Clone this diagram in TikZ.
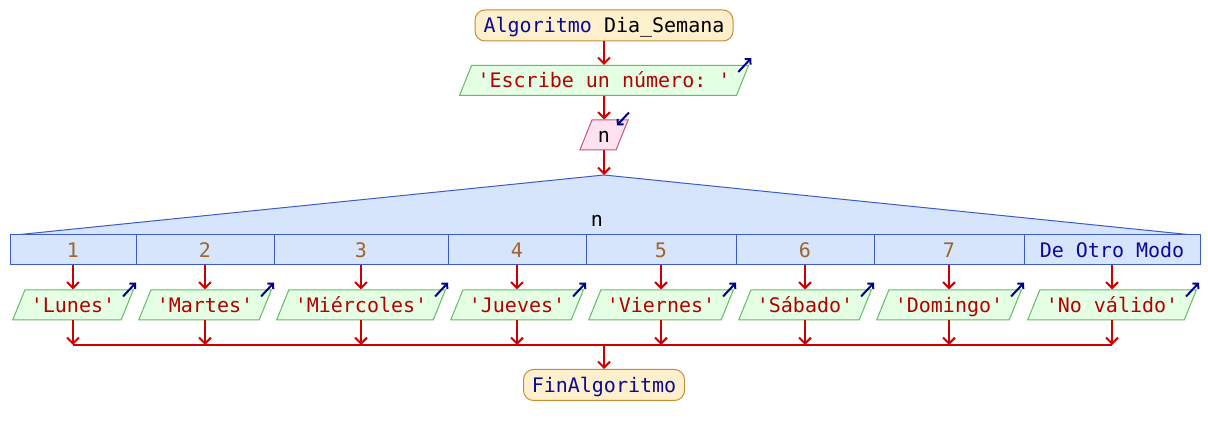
\documentclass[tikz,border=0pt]{standalone}
\usepackage{fontspec}
\setmonofont{DejaVu Sans Mono}
\usepackage{tikz}
\usetikzlibrary{arrows.meta}
\usetikzlibrary{shapes.geometric}

\definecolor{flecha}{RGB}{204,0,0}
\definecolor{fondoini}{RGB}{255,240,205}
\definecolor{bordeini}{RGB}{200,140,50}
\definecolor{fondosal}{RGB}{228,255,228}
\definecolor{bordesal}{RGB}{95,190,95}
\definecolor{fondoent}{RGB}{255,226,240}
\definecolor{bordeent}{RGB}{200,80,130}
\definecolor{fondocaso}{RGB}{214,228,252}
\definecolor{bordecaso}{RGB}{60,90,200}
\definecolor{clave}{RGB}{10,10,150}
\definecolor{cadena}{RGB}{180,0,0}
\definecolor{numero}{RGB}{160,100,40}
\definecolor{azulicono}{RGB}{0,0,140}

\begin{document}
\begin{tikzpicture}[x=1pt,y=-1pt,
			font=\ttfamily\fontsize{20}{24}\selectfont,
			every node/.style={text height=14.5pt,text depth=0pt},
			flujo/.style={draw=flecha,line width=2pt,arrows={-Straight Barb[length=6pt,width=12pt]}},
			union/.style={draw=flecha,line width=2pt},
			terminal/.style={draw=bordeini,fill=fondoini,line width=1pt,rounded corners=10pt,minimum height=31pt,inner sep=0pt},
			salida/.style={trapezium,trapezium left angle=68,trapezium right angle=112,draw=bordesal,fill=fondosal,line width=1pt,inner xsep=6pt,inner ysep=7.75pt,text=cadena},
			entrada/.style={salida,draw=bordeent,fill=fondoent,text=black},
			caso/.style={draw=bordecaso,fill=fondocaso,line width=1pt,minimum height=30pt,inner sep=0pt,text=numero},
			icono/.style={draw=azulicono,line width=2pt,arrows={-Straight Barb[length=4pt,width=8pt]}}]
			
			\useasboundingbox (0,0) rectangle (1208,435);
			
			% start
			\node[terminal,minimum width=258pt] (inicio) at (604,25.5) {{\color{clave}Algoritmo} Dia\_Semana};
			
			% write and read
			\node[salida] (escribe) at (604,80.5) {'Escribe un número: '};
			\node[entrada] (leer) at (604,135) {n};
			
			% selector
			\coordinate (apex) at (604,175);
			\filldraw[draw=bordecaso,fill=fondocaso,line width=1pt] (15,235) -- (apex) -- (1193,235) -- cycle;
			\node (sel) at (597,219) {n};
			
			%labels cases
			\node[caso,minimum width=126pt] (c1) at (73,250) {1};
			\node[caso,minimum width=138pt] (c2) at (205,250) {2};
			\node[caso,minimum width=174pt] (c3) at (361,250) {3};
			\node[caso,minimum width=138pt] (c4) at (517,250) {4};
			\node[caso,minimum width=150pt] (c5) at (661,250) {5};
			\node[caso,minimum width=138pt] (c6) at (805,250) {6};
			\node[caso,minimum width=150pt] (c7) at (949,250) {7};
			\node[caso,minimum width=176pt,text=clave] (c8) at (1112,250) {De Otro Modo};
			
			% outputs
			\node[salida] (o1) at (73,305) {'Lunes'};
			\node[salida] (o2) at (205,305) {'Martes'};
			\node[salida] (o3) at (361,305) {'Miércoles'};
			\node[salida] (o4) at (517,305) {'Jueves'};
			\node[salida] (o5) at (661,305) {'Viernes'};
			\node[salida] (o6) at (805,305) {'Sábado'};
			\node[salida] (o7) at (949,305) {'Domingo'};
			\node[salida] (o8) at (1112,305) {'No válido'};
			
			% end
			\node[terminal,minimum width=161pt] (fin) at (604,385) {\color{clave}FinAlgoritmo};
			
			% join points
			\coordinate (j1) at (73,345);
			\coordinate (j2) at (205,345);
			\coordinate (j3) at (361,345);
			\coordinate (j4) at (517,345);
			\coordinate (j5) at (661,345);
			\coordinate (j6) at (805,345);
			\coordinate (j7) at (949,345);
			\coordinate (j8) at (1112,345);
			\coordinate (j) at (604,345);
			
			% arrows
			\draw[flujo] (inicio) -- (escribe);
			\draw[flujo] (escribe) -- (leer);
			\draw[flujo] (leer) -- (apex);
			\draw[flujo] (c1) -- (o1);
			\draw[flujo] (c2) -- (o2);
			\draw[flujo] (c3) -- (o3);
			\draw[flujo] (c4) -- (o4);
			\draw[flujo] (c5) -- (o5);
			\draw[flujo] (c6) -- (o6);
			\draw[flujo] (c7) -- (o7);
			\draw[flujo] (c8) -- (o8);
			\draw[flujo] (o1) -- (j1);
			\draw[flujo] (o2) -- (j2);
			\draw[flujo] (o3) -- (j3);
			\draw[flujo] (o4) -- (j4);
			\draw[flujo] (o5) -- (j5);
			\draw[flujo] (o6) -- (j6);
			\draw[flujo] (o7) -- (j7);
			\draw[flujo] (o8) -- (j8);
			\draw[union] (j1) -- (j8);
			\draw[flujo] (j) -- (fin);
			
			% io icons
			\draw[icono] ([shift={(-11,7)}]escribe.top right corner) -- ([shift={(2,-7)}]escribe.top right corner);
			\draw[icono] ([shift={(0,-7)}]leer.top right corner) -- ([shift={(-12,6)}]leer.top right corner);
			\draw[icono] ([shift={(-11,7)}]o1.top right corner) -- ([shift={(2,-7)}]o1.top right corner);
			\draw[icono] ([shift={(-11,7)}]o2.top right corner) -- ([shift={(2,-7)}]o2.top right corner);
			\draw[icono] ([shift={(-11,7)}]o3.top right corner) -- ([shift={(2,-7)}]o3.top right corner);
			\draw[icono] ([shift={(-11,7)}]o4.top right corner) -- ([shift={(2,-7)}]o4.top right corner);
			\draw[icono] ([shift={(-11,7)}]o5.top right corner) -- ([shift={(2,-7)}]o5.top right corner);
			\draw[icono] ([shift={(-11,7)}]o6.top right corner) -- ([shift={(2,-7)}]o6.top right corner);
			\draw[icono] ([shift={(-11,7)}]o7.top right corner) -- ([shift={(2,-7)}]o7.top right corner);
			\draw[icono] ([shift={(-11,7)}]o8.top right corner) -- ([shift={(2,-7)}]o8.top right corner);
			
\end{tikzpicture}
\end{document}
